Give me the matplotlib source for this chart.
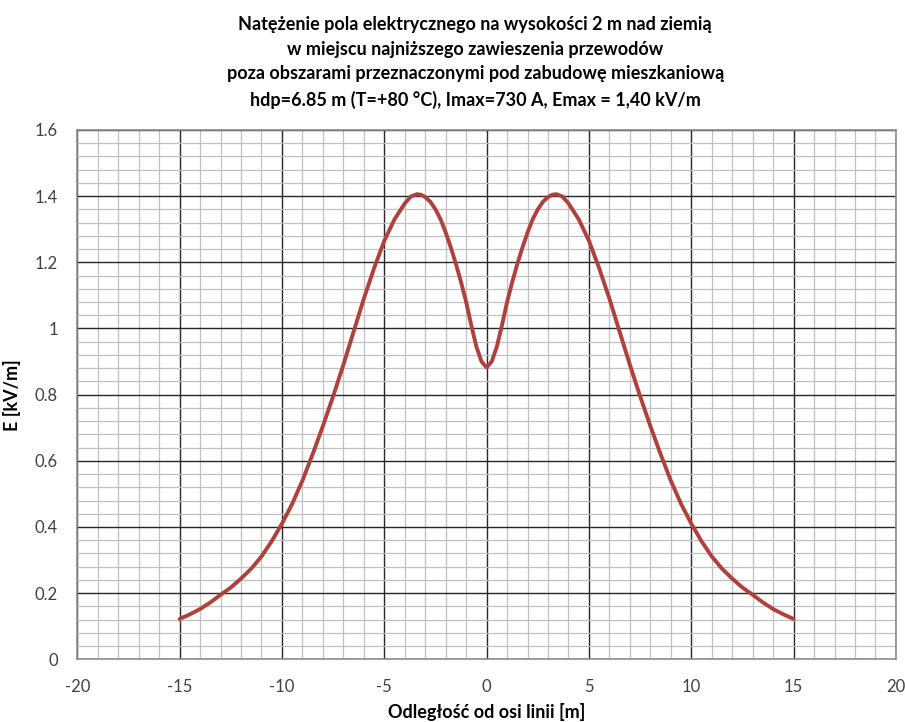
import matplotlib.pyplot as plt
from matplotlib.ticker import MultipleLocator

# odczytane wartosci natezenia pola E [kV/m] w funkcji odleglosci od osi linii [m]
x = [-15, -14.5, -14, -13.5, -13, -12.5, -12, -11.5, -11, -10.5, -10, -9.5, -9, -8.5, -8,
     -7.5, -7, -6.5, -6, -5.5, -5, -4.5, -4, -3.7, -3.4, -3.2, -3, -2.75, -2.5, -2.25, -2,
     -1.75, -1.5, -1.25, -1, -0.75, -0.5, -0.25, 0,
     0.25, 0.5, 0.75, 1, 1.25, 1.5, 1.75, 2, 2.25, 2.5, 2.75, 3, 3.2, 3.4, 3.7, 4, 4.5,
     5, 5.5, 6, 6.5, 7, 7.5, 8, 8.5, 9, 9.5, 10, 10.5, 11, 11.5, 12, 12.5, 13, 13.5,
     14, 14.5, 15]
E = [0.122, 0.136, 0.152, 0.172, 0.195, 0.217, 0.244, 0.274, 0.311, 0.357, 0.41, 0.47, 0.54, 0.62, 0.705,
     0.795, 0.89, 0.99, 1.09, 1.182, 1.265, 1.33, 1.378, 1.399, 1.406, 1.404, 1.397, 1.383, 1.36, 1.33, 1.29,
     1.245, 1.195, 1.14, 1.08, 1.01, 0.945, 0.9, 0.882,
     0.9, 0.945, 1.01, 1.08, 1.14, 1.195, 1.245, 1.29, 1.33, 1.36, 1.383, 1.397, 1.404, 1.406, 1.399, 1.378, 1.33,
     1.265, 1.182, 1.09, 0.99, 0.89, 0.795, 0.705, 0.62, 0.54, 0.47, 0.41, 0.357, 0.311, 0.274, 0.244, 0.217, 0.195, 0.172,
     0.152, 0.136, 0.122]

title = ("Natężenie pola elektrycznego na wysokości 2 m nad ziemią\n"
         "w miejscu najniższego zawieszenia przewodów\n"
         "poza obszarami przeznaczonymi pod zabudowę mieszkaniową\n"
         "hdp=6.85 m (T=+80 °C), Imax=730 A, Emax = 1,40 kV/m")

plt.rcParams['font.family'] = ['Lato', 'DejaVu Sans']
plt.rcParams['axes.unicode_minus'] = False

fig = plt.figure(figsize=(9.05, 7.22), dpi=100)
ax = fig.add_axes([0.0854, 0.0868, 0.9046, 0.7332])

ax.plot(x, E, color='#b0403c', lw=2.8, solid_capstyle='round', solid_joinstyle='round', zorder=5)

ax.set_xlim(-20, 20)
ax.set_ylim(0, 1.6)
ax.xaxis.set_major_locator(MultipleLocator(5))
ax.xaxis.set_minor_locator(MultipleLocator(1))
ax.yaxis.set_major_locator(MultipleLocator(0.2))
ax.yaxis.set_minor_locator(MultipleLocator(0.04))
ax.grid(which='minor', color='#c0c0c0', lw=0.9)
ax.grid(which='major', color='#262626', lw=1.0)
ax.set_axisbelow(True)

ax.set_yticks([0, 0.2, 0.4, 0.6, 0.8, 1.0, 1.2, 1.4, 1.6])
ax.set_yticklabels(['0', '0.2', '0.4', '0.6', '0.8', '1', '1.2', '1.4', '1.6'])
ax.tick_params(which='both', length=0, labelsize=12, labelcolor='#404040')
ax.tick_params(axis='x', pad=14)
ax.tick_params(axis='y', pad=14)

for s in ax.spines.values():
    s.set_color('#8c8c8c')
    s.set_linewidth(1.2)

ax.set_xlabel("Odległość od osi linii [m]", fontsize=13, fontweight='bold', labelpad=6)
ax.set_ylabel("E [kV/m]", fontsize=13, fontweight='bold', labelpad=10)

fig.text(0.525, 0.978, title, ha='center', va='top', fontsize=13, fontweight='bold',
         linespacing=1.55)

fig.savefig('out.png', dpi=100)
